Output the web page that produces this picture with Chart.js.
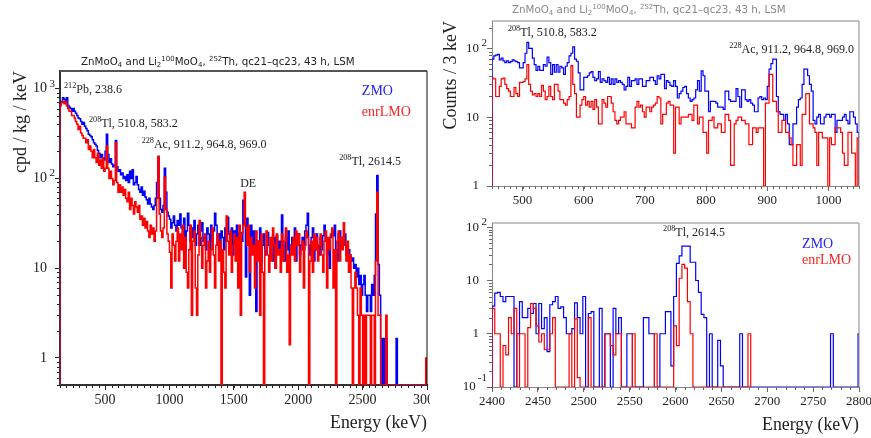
<!DOCTYPE html>
<html>
<head>
<meta charset="utf-8">
<style>
  html, body { margin: 0; padding: 0; background: #fff; }
  canvas { position: absolute; }
</style>
<script src="https://cdn.jsdelivr.net/npm/chart.js@4/dist/chart.umd.min.js"></script>
</head>
<body>
<canvas id="fullChart" width="430" height="438" style="left:0;top:0"></canvas>
<canvas id="lowChart" width="431" height="210" style="left:440px;top:0"></canvas>
<canvas id="peakChart" width="431" height="228" style="left:440px;top:210px"></canvas>
<script>
// full range, 10 keV bins from 150, cpd / kg / keV (0 = empty bin)
const fullZmo = [
  680,720,790,760,700,790,650,620,600,560,
  600,560,530,500,470,460,430,400,420,380,
  360,340,310,300,290,270,250,240,230,205,
  190,170,185,170,160,200,310,185,150,165,
  145,135,140,265,135,120,125,110,115,100,
  105,95,110,90,120,100,125,85,90,105,
  85,75,70,80,65,72,62,58,52,60,
  52,48,45,50,60,90,175,60,45,42,
  50,130,70,42,38,35,28,32,38,30,
  26,34,30,40,28,22,36,16,26,41,
  30,20,28,22,34,18,24,30,18,26,
  32,20,22,16,28,24,14,30,20,26,
  41,30,18,24,14,26,22,16,28,20,
  37,24,18,28,14,26,22,30,16,24,
  25,20,57,30,8,36,22,5,30,18,
  26,14,3.3,20,16,28,12,18,24,14,
  16,25,18,14,20,12,22,10,23,16,
  20,14,39,18,12,22,16,26,14,18,
  22,16,28,12,20,24,14,18,22,16,
  26,30,41,18,14,22,28,12,16,24,
  18,14,22,16,23,30,20,14,18,10,
  22,26,23,30,16,12,24,26,18,22,
  18,24,14,16,16,14,12,13,10,11,
  8,10,6.6,8.3,5,6.6,8.3,5,3.3,5,
  5,3.3,6.6,5,8.3,40,108,11,5,1.65,
  0,1.65,0,1.65,0,0,0,0,0,0,
  0,1.65,0,0,0,0,0,0,0,0,
  0,0,0,0,0,0,0,0,0,0,
  0,0,0,0,0
];
const fullLmo = [
  640,700,720,680,720,640,600,560,560,500,
  500,470,430,400,350,380,320,300,280,280,
  250,270,210,230,200,170,210,170,150,190,
  140,160,130,170,120,130,230,130,100,120,
  100,85,95,250,90,70,85,70,80,65,
  75,60,55,70,45,60,50,40,55,48,
  42,50,35,38,30,36,28,33,26,22,
  30,24,28,20,26,60,175,40,26,22,
  28,103,45,24,20,15,6,24,18,12,
  20,28,12,24,16,30,10,22,9,6,
  16,30,3,20,26,6,3,14,34,22,
  10,18,24,6,12,20,9,16,28,14,
  6,18,24,12,20,0,16,9,6,38,
  20,14,26,9,18,24,12,22,6,30,
  3,24,30,70,28,18,30,9,22,14,
  18,6,26,12,20,3,24,9,0,16,
  26,14,9,22,12,28,18,10,24,14,
  16,9,24,12,20,28,9,14,1.4,18,
  14,22,12,26,18,24,9,16,20,6,
  18,26,22,0,12,20,9,24,16,22,
  12,18,24,14,9,20,26,6,22,16,
  24,28,6,16,0,20,26,12,22,16,
  32,18,12,20,9,14,6,0,6,9,
  6,3,0,6,3,0,3,0,3,3,
  3,0,3,3,0,12,70,3,3,0,
  0,0,0,3,0,0,0,0,0,0,
  0,0,0,0,0,0,0,0,0,0,
  0,0,0,0,0,0,0,0,0,0,
  0,0,0,0,1
];

// 450-1050 keV, 3 keV bins, counts
const lowZmo = [
  70,78,80,82,68,72,66,62,66,62,
  64,68,66,64,62,52,52,62,85,122,
  100,100,72,58,48,55,48,48,58,55,
  75,62,42,58,45,58,45,55,52,42,
  55,62,78,85,105,70,65,44,25,25,
  38,38,40,44,46,38,34,36,46,32,
  36,34,32,38,30,36,30,36,32,34,
  32,30,25,28,38,28,34,34,36,30,
  36,36,28,28,34,34,38,38,34,30,
  40,36,42,42,26,34,32,29,28,34,
  28,19,22,24,27,28,22,19,17,18,
  19,25,34,24,47,40,24,24,12,17,
  17,17,16,14,14,14,13,24,24,18,
  17,17,17,26,20,14,25,25,18,17,
  18,16,15,12,12,19,20,18,19,18,
  28,50,60,70,70,20,12,11,11,9,
  11,8,4,4,8,8,14,18,19,30,
  50,50,40,30,24,9,8,10,11,8,
  8,10,11,11,10,11,11,6,9,9,
  9,10,11,9,8,12,12,10,8,6
];
const lowLmo = [
  37,36,20,20,28,36,37,30,26,24,
  20,20,27,22,20,32,32,33,36,58,
  30,24,21,22,20,22,20,29,24,18,
  20,28,20,18,30,30,24,18,18,16,
  15,18,20,56,30,22,10,10,15,18,
  20,15,17,14,17,13,18,14,8,8,
  18,16,14,20,20,16,12,9,8,9,
  10,10,12,8,8,8,7,7,14,17,
  14,15,12,10,14,14,12,14,15,16,
  20,19,8,11,11,16,17,15,15,3,
  14,14,8,10,10,10,10,11,11,9,
  15,15,8,10,10,6,6,3,9,9,
  10,7,7,8,8,6,6,11,11,9,
  2,2,8,9,10,10,9,9,8,8,
  4,4,7,7,6,7,7,7,0,16,
  16,42,42,17,17,12,6,6,9,9,
  6,6,5,4,2,2,4,4,2,11,
  11,22,22,8,8,7,6,2,6,6,
  5,5,5,0,5,4,4,7,7,7,
  6,3,2,2,6,6,3,3,1,5
];

// 2400-2800 keV, 3 keV bins, counts
const peakZmo = [
  3.3,5.8,6,5,4,5,5,5,0,1,
  4,2,2,3,2.4,3.7,1,3.7,1.25,2,
  0.46,3.5,4,5,3,3.2,2,1,1,1.25,
  3.8,2,1,5,0,2.4,2.6,0,0,3,
  0,1,1,0,3,1,2,0,0,1,
  1,0,0,0,0,2,2,1,1,0,
  0,1,1,2.6,2.6,0.25,5,21,29,44,
  44,44,22,22,10,6,2.3,2,0,1,
  0,0,0.75,0.25,0,0,0,0,0,0,
  1,0,0,0,0,0,0,0,0,0,
  0,0,0,0,0,0,0,0,0,0,
  0,0,0,0,0,0,0,0,0,0,
  0,0,0,1,0,0,0,0,0,0,
  0,0,0,1
];
const peakLmo = [
  3,1,1,0,0.6,0.4,2,1,3,0,
  1,1,0,1.3,3.7,3,1.4,0.7,1,0.5,
  0.5,1,2,0,0,0,0,0,1,0,
  1.9,0.15,0,0,0,2,0,0,0,0,
  0,1,1,0.6,0.4,1,1,0,0,0,
  0,1,0,0,0,0,0,0,0,1,
  0,0,0,0,0,0,1.4,0.6,11,20,
  17,4,1,0,0,0,0,0,0,0,
  0,0,0,0,0,0,0,0,0,0,
  0,0,0,1
];

const fullXTicks = [500, 1000, 1500, 2000, 2500, 3000];
const lowXTicks = [500, 600, 700, 800, 900, 1000];
const peakXTicks = [2400, 2450, 2500, 2550, 2600, 2650, 2700, 2750, 2800];
const fullYTicks = [1, 10, 100, 1000];
const fullYLabels = ['1', '10', '10', '10'];
const fullYExp = ['', '', '2', '3'];
const lowYTicks = [1, 10, 100];
const lowYLabels = ['1', '10', '10'];
const lowYExp = ['', '', '2'];
const peakYTicks = [0.1, 1, 10, 100];
const peakYLabels = ['10 ', '1', '10', '10'];
const peakYExp = ['-1', '', '', '2'];

const SERIF = '"Liberation Serif", "Times New Roman", serif';
const TITLE_FONT = '"DejaVu Sans", sans-serif';
const BLUE = '#0000ff';
const RED = '#ff0000';

const titleRuns = [
  ['ZnMoO', 0], ['4', -1], [' and Li', 0], ['2', -1], ['100', 1], ['MoO', 0], ['4', -1],
  [', ', 0], ['252', 1], ['Th, qc21\u2013qc23, 43 h, LSM', 0]
];

// bins to step points, empty bins sit on the axis floor
function hist(values, start, width, floor) {
  const pts = [{ x: start, y: floor }];
  values.forEach((v, i) => pts.push({ x: start + i * width, y: v === 0 ? floor : v }));
  pts.push({ x: start + values.length * width, y: floor });
  return pts;
}

function drawRuns(ctx, x, y, runs, size, family, color) {
  ctx.fillStyle = color;
  ctx.textAlign = 'left';
  ctx.textBaseline = 'alphabetic';
  runs.forEach(([text, shift]) => {
    const s = shift ? size * 0.68 : size;
    ctx.font = s + 'px ' + family;
    ctx.fillText(text, x, y - (shift > 0 ? size * 0.42 : shift < 0 ? -size * 0.22 : 0));
    x += ctx.measureText(text).width;
  });
}

// frame, minor ticks, exponents and the peak labels
function decorations(cfg) {
  return {
    id: 'decorations',
    afterDraw(chart) {
      const ctx = chart.ctx;
      const a = chart.chartArea;
      const x = chart.scales.x;
      const y = chart.scales.y;
      ctx.save();
      ctx.strokeStyle = cfg.frame;
      ctx.lineWidth = cfg.frameTop;
      ctx.beginPath();
      ctx.moveTo(a.left, a.top);
      ctx.lineTo(a.right, a.top);
      ctx.stroke();
      ctx.lineWidth = 1;
      ctx.strokeStyle = cfg.frameRight;
      ctx.beginPath();
      ctx.moveTo(a.right, a.top);
      ctx.lineTo(a.right, a.bottom);
      ctx.stroke();

      ctx.strokeStyle = cfg.tick;
      ctx.beginPath();
      for (let v = x.min; v <= x.max; v += cfg.xMinor) {
        const px = Math.round(x.getPixelForValue(v)) + 0.5;
        ctx.moveTo(px, a.bottom);
        ctx.lineTo(px, a.bottom + 3);
      }
      for (let d = Math.floor(Math.log10(y.min)); d <= Math.ceil(Math.log10(y.max)); d++) {
        for (let m = 2; m <= 9; m++) {
          const v = m * Math.pow(10, d);
          if (v < y.min || v > y.max) continue;
          const py = Math.round(y.getPixelForValue(v)) + 0.5;
          ctx.moveTo(a.left, py);
          ctx.lineTo(a.left - 3, py);
        }
      }
      ctx.stroke();

      ctx.fillStyle = '#222';
      ctx.font = '11px ' + SERIF;
      ctx.textAlign = 'right';
      ctx.textBaseline = 'alphabetic';
      cfg.yTicks.forEach((v, i) => {
        if (cfg.yExp[i]) {
          ctx.fillText(cfg.yExp[i], a.left - 5, Math.min(y.getPixelForValue(v) - 2, a.bottom - 6));
        }
      });

      cfg.labels.forEach(l => {
        drawRuns(ctx, x.getPixelForValue(l.e), y.getPixelForValue(l.v), l.runs, l.size || 12, SERIF, l.color || '#222');
      });
      if (cfg.titleColor) {
        drawRuns(ctx, cfg.titleX, cfg.titleY, titleRuns, cfg.titleSize, TITLE_FONT, cfg.titleColor);
      }
      ctx.restore();
    }
  };
}

function makeChart(id, p) {
  new Chart(document.getElementById(id), {
    type: 'line',
    data: {
      datasets: [
        { label: 'enrLMO', data: hist(p.red, p.start, p.width, p.yMin), borderColor: RED },
        { label: 'ZMO', data: hist(p.blue, p.start, p.width, p.yMin), borderColor: BLUE }
      ].map(d => Object.assign(d, { borderWidth: p.lineWidth, pointRadius: 0, stepped: true, fill: false }))
    },
    options: {
      responsive: false,
      animation: false,
      layout: { autoPadding: false, padding: { top: p.top, right: p.right } },
      plugins: { legend: { display: false }, tooltip: { enabled: false } },
      scales: {
        x: {
          type: 'linear',
          min: p.xMin,
          max: p.xMax,
          afterBuildTicks: s => { s.ticks = p.xTicks.map(v => ({ value: v })); },
          afterFit: s => { s.height = p.bottom; s.paddingLeft = 0; s.paddingRight = 0; },
          grid: { drawOnChartArea: false, tickLength: 5, tickColor: p.tick },
          border: { color: p.axis, width: p.axisWidth },
          ticks: {
            font: { family: SERIF, size: p.tickSize }, color: '#222', padding: 2, maxRotation: 0, autoSkip: false,
            callback: v => String(v)
          },
          title: {
            display: p.xTitle, text: 'Energy (keV)', align: 'end', color: '#222',
            font: { family: SERIF, size: 17.8 }, padding: { top: 0, bottom: p.xTitlePad }
          }
        },
        y: {
          type: 'logarithmic',
          min: p.yMin,
          max: p.yMax,
          afterBuildTicks: s => { s.ticks = p.yTicks.map(v => ({ value: v })); },
          afterFit: s => { s.width = p.left; s.paddingTop = 0; s.paddingBottom = 0; },
          grid: { drawOnChartArea: false, tickLength: 5, tickColor: p.tick },
          border: { color: p.axis, width: p.axisWidth },
          ticks: {
            font: { family: SERIF, size: p.tickSize }, color: '#222', padding: 8, autoSkip: false,
            callback: (v, i) => p.yLabels[i]
          },
          title: {
            display: !!p.yTitle, text: p.yTitle, align: 'end', color: '#222',
            font: { family: SERIF, size: 18 }, padding: { top: p.yTitlePad, bottom: 0 }
          }
        }
      }
    },
    plugins: [decorations(p)]
  });
}

makeChart('fullChart', {
  blue: fullZmo, red: fullLmo, start: 150, width: 10,
  xMin: 150, xMax: 3000, yMin: 0.5, yMax: 1570,
  xTicks: fullXTicks, yTicks: fullYTicks, yLabels: fullYLabels, yExp: fullYExp, xMinor: 50,
  top: 71, right: 3, left: 60, bottom: 53, lineWidth: 1.5, tickSize: 14,
  axis: '#333', axisWidth: 2, tick: '#222', frame: '#555', frameTop: 2, frameRight: '#111',
  xTitle: true, yTitle: 'cpd / kg / keV', yTitlePad: 10, xTitlePad: 4,
  titleX: 81, titleY: 65, titleSize: 10.3, titleColor: '#222',
  labels: [
    { e: 181, v: 893, runs: [['212', 1], ['Pb, 238.6', 0]] },
    { e: 375, v: 374, runs: [['208', 1], ['Tl, 510.8, 583.2', 0]] },
    { e: 784, v: 219, runs: [['228', 1], ['Ac, 911.2, 964.8, 969.0', 0]] },
    { e: 1549, v: 81, runs: [['DE', 0]] },
    { e: 2318, v: 140, runs: [['208', 1], ['Tl, 2614.5', 0]] },
    { e: 2494, v: 843, size: 14, color: '#2222ff', runs: [['ZMO', 0]] },
    { e: 2494, v: 496, size: 14, color: '#ff2222', runs: [['enrLMO', 0]] }
  ]
});

makeChart('lowChart', {
  blue: lowZmo, red: lowLmo, start: 450, width: 3,
  xMin: 450, xMax: 1050, yMin: 1, yMax: 250,
  xTicks: lowXTicks, yTicks: lowYTicks, yLabels: lowYLabels, yExp: lowYExp, xMinor: 10,
  top: 21, right: 12, left: 52, bottom: 24, lineWidth: 1.2, tickSize: 13,
  axis: '#888', axisWidth: 1, tick: '#666', frame: '#888', frameTop: 1, frameRight: '#888',
  xTitle: false, yTitle: 'Counts / 3 keV', yTitlePad: 0, xTitlePad: 0,
  titleX: 72, titleY: 13, titleSize: 10.3, titleColor: '#888',
  labels: [
    { e: 476, v: 153, runs: [['208', 1], ['Tl, 510.8, 583.2', 0]] },
    { e: 838, v: 86, runs: [['228', 1], ['Ac, 911.2, 964.8, 969.0', 0]] }
  ]
});

makeChart('peakChart', {
  blue: peakZmo, red: peakLmo, start: 2400, width: 3,
  xMin: 2400, xMax: 2800, yMin: 0.1, yMax: 120,
  xTicks: peakXTicks, yTicks: peakYTicks, yLabels: peakYLabels, yExp: peakYExp, xMinor: 10,
  top: 13, right: 12, left: 52, bottom: 51, lineWidth: 1.2, tickSize: 13,
  axis: '#888', axisWidth: 1, tick: '#666', frame: '#888', frameTop: 1, frameRight: '#888',
  xTitle: true, yTitle: '', yTitlePad: 0, xTitlePad: 2,
  titleX: 0, titleY: 0, titleSize: 10, titleColor: '',
  labels: [
    { e: 2586.5, v: 69, runs: [['208', 1], ['Tl, 2614.5', 0]] },
    { e: 2738, v: 41.6, size: 14, color: '#2222ff', runs: [['ZMO', 0]] },
    { e: 2738, v: 20.6, size: 14, color: '#ff2222', runs: [['enrLMO', 0]] }
  ]
});
</script>
</body>
</html>
